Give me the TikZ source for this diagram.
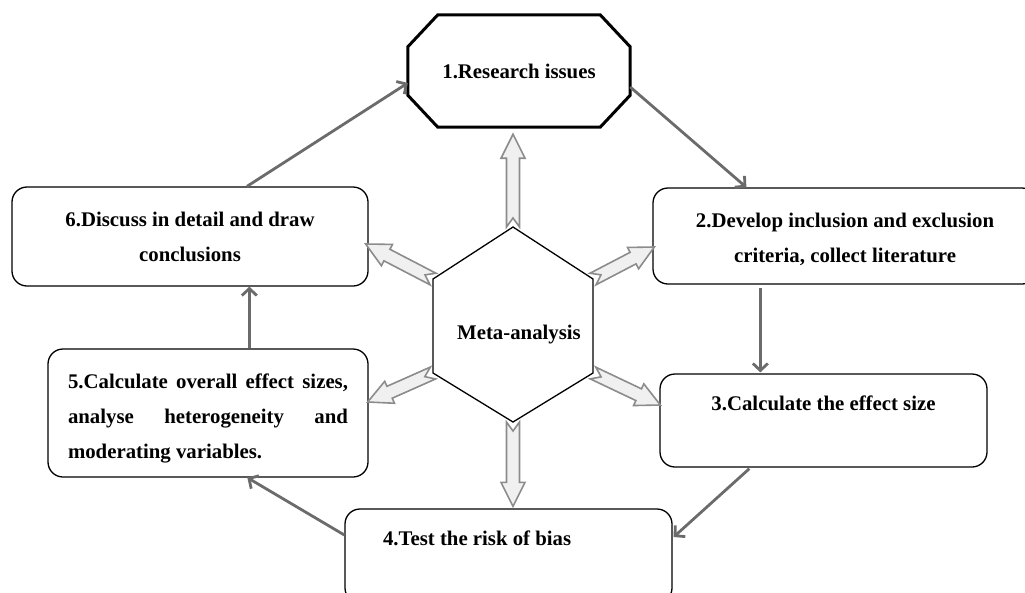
\documentclass[tikz,border=0pt]{standalone}
\usepackage{fontspec}
\setmainfont{Liberation Serif}
\usetikzlibrary{calc,arrows.meta}

\begin{document}
\begin{tikzpicture}[x=1pt, y=-1pt, line join=round,
                    txt/.style={font=\fontsize{20.8}{35}\selectfont\bfseries, align=center},
                    box/.style={txt, draw, line width=1.3pt, rounded corners=15pt},
                    flow/.style={draw=black!58, line width=2.8pt, -{Straight Barb[length=7pt,width=15pt]}},
                    hollow/.style={draw=black!45, fill=black!6, line width=1.6pt, line join=miter}]

  \useasboundingbox (0,0) rectangle (1025,592);
  \clip (0,0) rectangle (1025,592);

  % steps
  \node[txt, minimum width=222pt, minimum height=112pt] (res) at (519,71) {1.Research issues};
  \node[box, minimum width=384pt, minimum height=96pt] (box2) at (845,236) {\rule{0pt}{21pt}2.Develop inclusion and exclusion\\criteria, collect literature};
  \node[box, minimum width=327pt, minimum height=93pt] (box3) at (823.5,420.5) {3.Calculate the effect size\\~};
  \node[box, minimum width=327pt, minimum height=94pt] (box4) at (508.5,556) {\makebox[251pt][l]{4.Test the risk of bias}\\~};
  \node[box, minimum width=320pt, minimum height=128pt] (box5) at (208,413)
    {\rule{0pt}{26pt}\makebox[280pt][s]{5.Calculate overall effect sizes,}\\
     \makebox[280pt][s]{analyse heterogeneity and}\\
     \makebox[280pt][l]{moderating variables.}};
  \node[box, minimum width=356pt, minimum height=99pt] (box6) at (190,236.5) {6.Discuss in detail and draw\\conclusions};
  \node[txt] (meta) at (519,335) {Meta-analysis};

  % octagon round step 1
  \draw[line width=3pt, line join=miter]
    ($(res.north west)+(30,0)$) -- ($(res.north east)+(-30,0)$) -- ($(res.north east)+(0,32)$)
    -- ($(res.south east)+(0,-32)$) -- ($(res.south east)+(-30,0)$) -- ($(res.south west)+(30,0)$)
    -- ($(res.south west)+(0,-32)$) -- ($(res.north west)+(0,32)$) -- cycle;

  % hexagon
  \coordinate (hn)  at ($(meta)+(-6,-108)$);
  \coordinate (hne) at ($(meta)+(74,-56)$);
  \coordinate (hse) at ($(meta)+(74,38)$);
  \coordinate (hs)  at ($(meta)+(-6,87)$);
  \coordinate (hsw) at ($(meta)+(-86,38)$);
  \coordinate (hnw) at ($(meta)+(-86,-56)$);
  \draw[line width=1.3pt, line join=miter] (hn) -- (hne) -- (hse) -- (hs) -- (hsw) -- (hnw) -- cycle;

  % tips of the hollow arrows
  \coordinate (p1) at ($(res.south)+(-6,7)$);
  \coordinate (p2) at ($(box2.west)+(2,11)$);
  \coordinate (p3) at ($(box3.west)+(1,-15.5)$);
  \coordinate (p4) at ($(box4.north)+(4.5,-2)$);
  \coordinate (p5) at ($(box5.east)+(-1,-11)$);
  \coordinate (p6) at ($(box6.east)+(-3,7.5)$);

  \foreach \t/\p in {hn/p1, hne/p2, hse/p3, hs/p4, hsw/p5, hnw/p6}
    \draw[hollow] ($(\t)!6.5pt!90:(\p)$) -- ($(\p)!24pt!(\t)!6.5pt!-90:(\t)$)
      -- ($(\p)!24pt!(\t)!12pt!-90:(\t)$) -- (\p) -- ($(\p)!24pt!(\t)!12pt!90:(\t)$)
      -- ($(\p)!24pt!(\t)!6.5pt!90:(\t)$) -- ($(\t)!6.5pt!-90:(\p)$) -- ($(\t)!9pt!(\p)$) -- cycle;

  % cycle of steps
  \path ($(box6.north)+(57,0)$)       edge[flow] ($(res.west)+(0,12)$)
        ($(res.east)+(0,16)$)         edge[flow] ($(box2.north west)+(94,0)$)
        ($(box2.south west)+(108,3)$) edge[flow] ($(box3.north west)+(101,-1)$)
        ($(box3.south west)+(90,1)$)  edge[flow] ($(box4.east)+(1,-19)$)
        ($(box4.west)+(0,-21)$)       edge[flow] ($(box5.south west)+(200,0)$)
        ($(box5.north west)+(202,0)$) edge[flow] ($(box6.south west)+(238,0)$);

\end{tikzpicture}
\end{document}
